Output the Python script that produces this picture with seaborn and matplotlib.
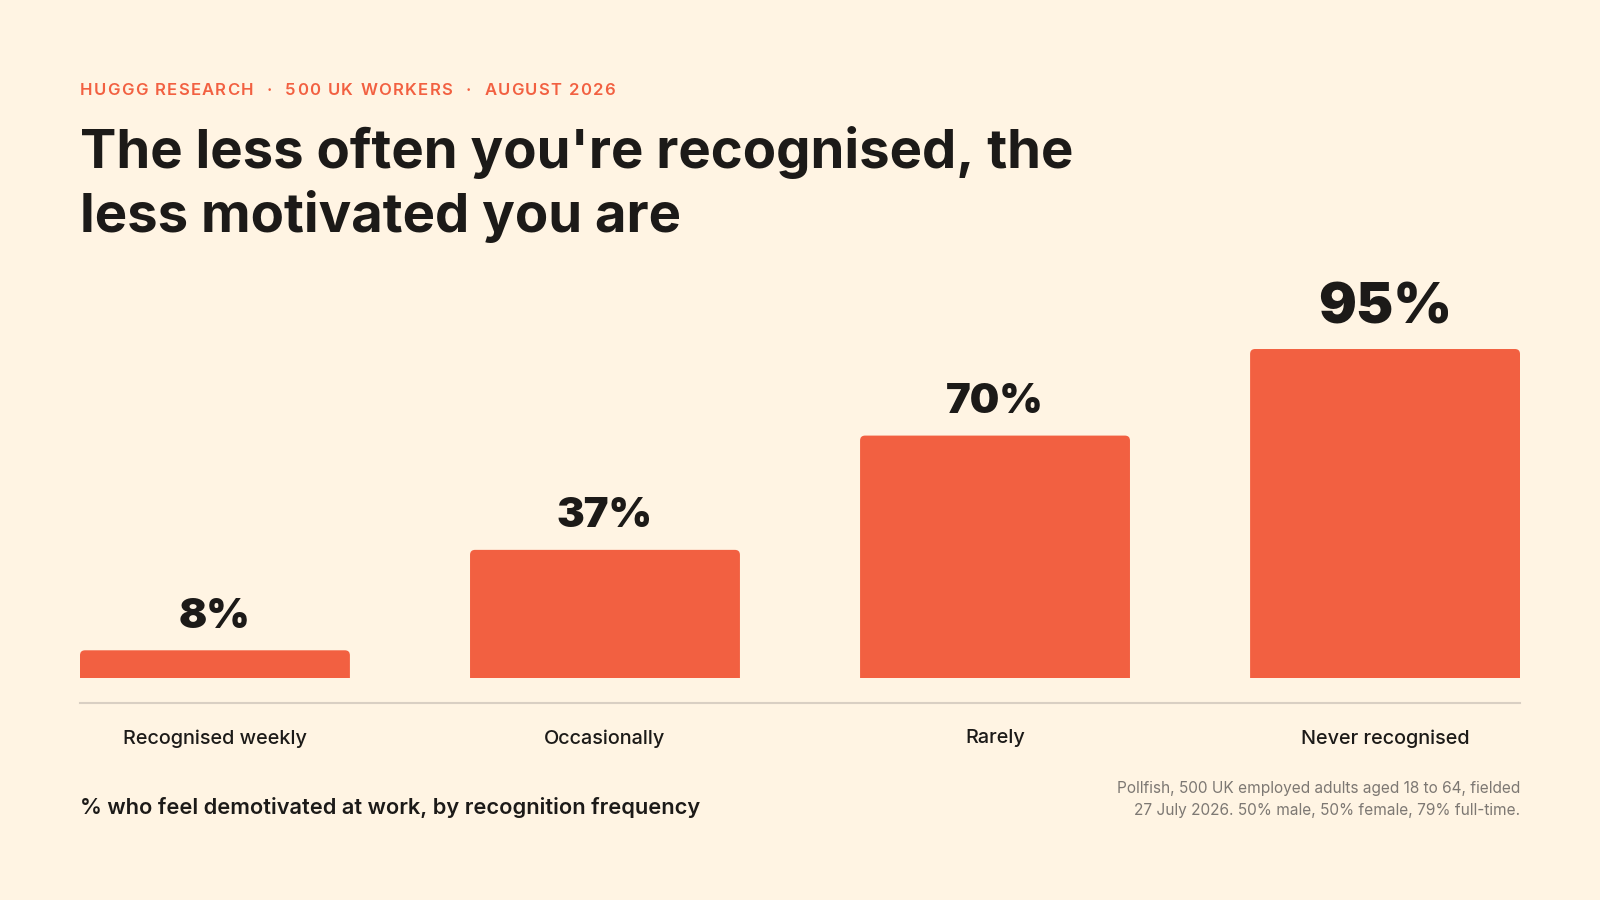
import matplotlib
matplotlib.use('Agg')
import matplotlib.pyplot as plt
from matplotlib.patches import FancyBboxPatch
import seaborn as sns

# chart data
categories = ['Recognised weekly', 'Occasionally', 'Rarely', 'Never recognised']
values = [8, 37, 70, 95]
value_labels = ['8%', '37%', '70%', '95%']

kicker = 'HUGGG RESEARCH  ·  500 UK WORKERS  ·  AUGUST 2026'
title_lines = ["The less often you're recognised, the", 'less motivated you are']
caption = '% who feel demotivated at work, by recognition frequency'
source_lines = ['Pollfish, 500 UK employed adults aged 18 to 64, fielded',
                '27 July 2026. 50% male, 50% female, 79% full-time.']

BG = '#FFF4E3'
ORANGE = '#F26041'
INK = '#1C1A18'
GREY = '#7D7873'
RULE = '#D9CFC3'

W, H = 1600, 900

sns.set_theme(style='white')
plt.rcParams['font.family'] = ['Inter', 'DejaVu Sans']

fig = plt.figure(figsize=(16, 9), dpi=100, facecolor=BG)
ax = fig.add_axes([80 / W, 1 - 678 / H, 1440 / W, 346.3 / H])
ax.set_facecolor(BG)

sns.barplot(x=categories, y=values, color=ORANGE, saturation=1, width=0.692, ax=ax)
ax.set_xlim(-0.346, 3.346)
ax.set_ylim(0, 100)

# rounded top corners: redraw seaborn's bars as rounded boxes, bottom clipped at 0
for p in list(ax.patches):
    x0, w, h = p.get_x(), p.get_width(), p.get_height()
    rb = FancyBboxPatch((x0, -3), w, h + 3, boxstyle='round,pad=0,rounding_size=0.0128',
                        mutation_aspect=112.6, fc=ORANGE, ec='none', clip_on=True)
    ax.add_patch(rb)
    p.set_visible(False)

for s in ['top', 'left', 'right']:
    ax.spines[s].set_visible(False)
ax.spines['bottom'].set_position(('outward', 18))
ax.spines['bottom'].set_color(RULE)
ax.spines['bottom'].set_linewidth(1.5)
ax.set_yticks([])
ax.set_xlabel('')
ax.set_ylabel('')
ax.tick_params(axis='x', length=0, pad=19, labelsize=14.3, labelcolor=INK)
for lbl in ax.get_xticklabels():
    lbl.set_fontweight('medium')

texts = ax.bar_label(ax.containers[0], labels=value_labels, padding=10.5,
                     fontsize=30, fontweight='black', color=INK)
texts[-1].set_fontsize(40.5)

# kicker line with letter spacing
renderer = fig.canvas.get_renderer()
def tracked_text(x_px, y_px, s, tracking, size, **kw):
    x = x_px
    space_w = 0.28 * size / 72 * 100
    for ch in s:
        if ch == ' ':
            x += space_w + tracking
            continue
        t = fig.text(x / W, 1 - y_px / H, ch, va='baseline', ha='left', fontsize=size, **kw)
        x += t.get_window_extent(renderer).width + tracking

tracked_text(80, 95, kicker, 1.3, 12, color=ORANGE, fontweight='semibold')

fig.text(80 / W, 1 - 168 / H, title_lines[0], fontsize=39.2, fontweight='bold', color=INK, va='baseline')
fig.text(80 / W, 1 - 232 / H, title_lines[1], fontsize=39.2, fontweight='bold', color=INK, va='baseline')

fig.text(80 / W, 1 - 814 / H, caption, fontsize=15.7, fontweight='semibold', color=INK, va='baseline')
fig.text(1520 / W, 1 - 793 / H, source_lines[0], fontsize=11.1, color=GREY, va='baseline', ha='right')
fig.text(1520 / W, 1 - 815 / H, source_lines[1], fontsize=11.1, color=GREY, va='baseline', ha='right')

fig.savefig('out.png', dpi=100, facecolor=BG)
